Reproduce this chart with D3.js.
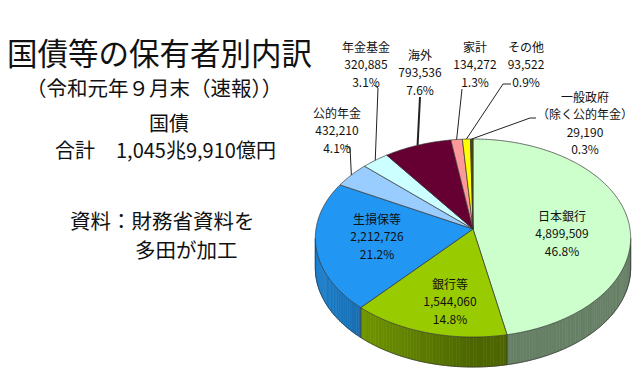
<!DOCTYPE html>
<html>
<head>
<meta charset="utf-8">
<script src="https://cdn.jsdelivr.net/npm/d3@7"></script>
<style>
  body { margin: 0; background: #fff; }
  svg { display: block; font-family: "Noto Sans CJK JP", "Noto Sans", sans-serif; }
</style>
</head>
<body>
<div id="chart"></div>
<script>
// holders of JGBs, Sep 2019 (unit: 100 million yen)
const holders = ["日本銀行", "銀行等", "生損保等", "公的年金", "年金基金", "海外", "家計", "その他", "一般政府"];
const holderNotes = ["", "", "", "", "", "", "", "", "（除く公的年金）"];
const amounts = [4899509, 1544060, 2212726, 432210, 320885, 793536, 134272, 93522, 29190];
const sliceColors = ["#ccffcc", "#99cc00", "#2196f3", "#99ccff", "#ccffff", "#660033", "#ff9999", "#ffff00", "#4d4d00"];

const width = 640, height = 377;

// 3d pie geometry
const cx = 473, cy = 229, rx = 157, ry = 98.2, persp = 0.091, depth = 30;
const lineGap = 17.5;

// label spots: [x, y of first line]
const labelSpots = [[562, 215], [450, 283], [377, 218], [337, 112], [366, 46], [420, 54], [475, 46], [526, 46], [585, 96]];
const leaderStarts = [null, null, null,
  [[345, 146], [350, 147]],
  [[374, 85], [378, 88]],
  [[420, 97]],
  [[462, 89]],
  [[511, 84], [503, 84]],
  [[536, 118], [530, 118]]];

const svg = d3.select("#chart").append("svg")
  .attr("width", width)
  .attr("height", height)
  .attr("viewBox", `0 0 ${width} ${height}`);

svg.append("rect").attr("width", width).attr("height", height).attr("fill", "#fff");

// perspective projection of a point on the disc (angle clockwise from the far side)
function project(a, r = 1, h = 0) {
  const X = r * Math.sin(a), Z = r * Math.cos(a);
  const s = 1 / (1 + persp * Z);
  return [cx + rx * X * s, cy - ry * Z * s + h];
}

function arcPoints(a0, a1, h = 0) {
  const n = Math.max(2, Math.ceil((a1 - a0) / 0.01));
  return d3.range(n + 1).map(i => project(a0 + (a1 - a0) * i / n, 1, h));
}

const pie = d3.pie().sort(null).value(d => d);
const slices = pie(amounts);
const total = d3.sum(amounts);
const pct = d3.format(".1%");
const num = d3.format(",");

const line = d3.line();
const thetaL = Math.acos(-persp), thetaR = 2 * Math.PI - thetaL;

function shade(col, a) {
  const f = 0.5 + 0.35 * Math.max(0, -Math.sin(a));
  const c = d3.rgb(col);
  return d3.rgb(c.r * f, c.g * f, c.b * f).toString();
}

// side walls
const sides = svg.append("g");
slices.forEach((s, i) => {
  const lo = Math.max(s.startAngle, thetaL), hi = Math.min(s.endAngle, thetaR);
  if (hi <= lo) return;
  const n = Math.max(1, Math.ceil((hi - lo) / 0.02));
  for (let k = 0; k < n; k++) {
    const t0 = lo + (hi - lo) * k / n, t1 = lo + (hi - lo) * (k + 1) / n;
    const col = shade(sliceColors[i], (t0 + t1) / 2);
    sides.append("path")
      .attr("d", line([project(t0), project(t1), project(t1, 1, depth), project(t0, 1, depth)]) + "Z")
      .attr("fill", col)
      .attr("stroke", col)
      .attr("stroke-width", 0.6);
  }
});

// side outline
let outline = "M" + arcPoints(thetaL, thetaR, depth).join("L");
outline += "M" + project(thetaL).join(",") + "L" + project(thetaL, 1, depth).join(",");
outline += "M" + project(thetaR).join(",") + "L" + project(thetaR, 1, depth).join(",");
slices.forEach(s => {
  if (s.startAngle > thetaL && s.startAngle < thetaR)
    outline += "M" + project(s.startAngle).join(",") + "L" + project(s.startAngle, 1, depth).join(",");
});
sides.append("path")
  .attr("d", outline)
  .attr("fill", "none")
  .attr("stroke", "#333")
  .attr("stroke-width", 0.7);

// top faces
svg.append("g").selectAll("path")
  .data(slices)
  .enter().append("path")
  .attr("d", d => line([[cx, cy]].concat(arcPoints(d.startAngle, d.endAngle))) + "Z")
  .attr("fill", (d, i) => sliceColors[i])
  .attr("stroke", "#333")
  .attr("stroke-width", 0.7)
  .attr("stroke-linejoin", "round");

// leader lines
svg.append("g").selectAll("path")
  .data(slices.filter((d, i) => leaderStarts[i]))
  .enter().append("path")
  .attr("d", d => line(leaderStarts[d.index].concat([project((d.startAngle + d.endAngle) / 2, 1)])))
  .attr("fill", "none")
  .attr("stroke", "#222")
  .attr("stroke-width", d => d.index === 5 ? 2 : 1);

// slice labels
const labels = svg.append("g")
  .attr("font-size", 12)
  .attr("fill", "#111")
  .attr("text-anchor", "middle");

slices.forEach((s, i) => {
  const rows = [holders[i]];
  if (holderNotes[i]) rows.push(holderNotes[i]);
  rows.push(num(amounts[i]), pct(amounts[i] / total));
  const [x, y] = labelSpots[i];
  rows.forEach((r, j) => {
    labels.append("text")
      .attr("x", x)
      .attr("y", y + j * lineGap)
      .attr("dominant-baseline", "central")
      .text(r);
  });
});

// titles and notes
const notes = svg.append("g").attr("fill", "#111");
notes.append("text").attr("x", 7).attr("y", 65).attr("font-size", 30.5).text("国債等の保有者別内訳");
notes.append("text").attr("x", 26).attr("y", 96).attr("font-size", 20.5).text("（令和元年９月末（速報））");
notes.append("text").attr("x", 169).attr("y", 131).attr("font-size", 20).attr("text-anchor", "middle").text("国債");
notes.append("text").attr("x", 55).attr("y", 158).attr("font-size", 20).text("合計");
notes.append("text").attr("x", 116).attr("y", 158).attr("font-size", 20).text("1,045兆9,910億円");
notes.append("text").attr("x", 70).attr("y", 229).attr("font-size", 20.5).text("資料：財務省資料を");
notes.append("text").attr("x", 135).attr("y", 258).attr("font-size", 20.5).text("多田が加工");
</script>
</body>
</html>
